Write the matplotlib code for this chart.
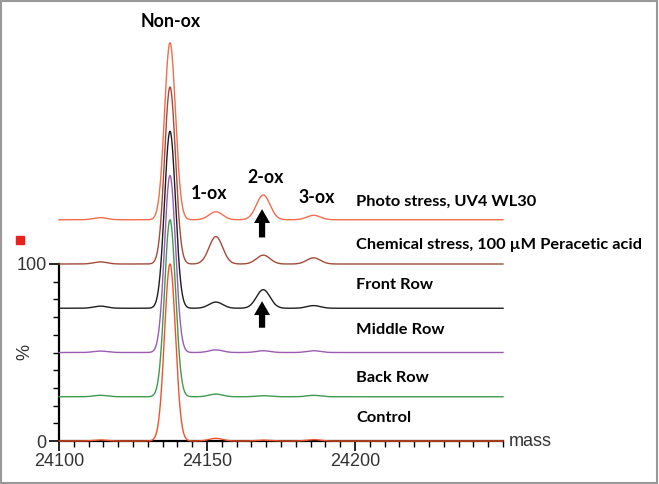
import numpy as np
import matplotlib
matplotlib.use("Agg")
import matplotlib.pyplot as plt
from matplotlib.patches import Rectangle

# peak table (mass in Da, intensity in % of each trace's own max)
peak_mass = [24114, 24137.5, 24153, 24169, 24186]
peak_names = ["Non-ox", "1-ox", "2-ox", "3-ox"]

samples = ["Photo stress, UV4 WL30",
           "Chemical stress, 100 \u00b5M Peracetic acid",
           "Front Row", "Middle Row", "Back Row", "Control"]
offsets = [125, 100, 75, 50, 25, 0]
photo = [1.2, 100, 4.5, 14, 2.5]
chemical = [1.2, 100, 15.5, 5, 3.5]
front = [1.2, 100, 3.5, 10.5, 1.5]
middle = [0.8, 100, 1.5, 1.0, 1.0]
back = [0.8, 100, 1.5, 0.6, 0.8]
control = [0.6, 100, 1.5, 0.5, 0.8]
intensities = [photo, chemical, front, middle, back, control]

colors = ["#F26D4B", "#A34B3B", "#1E1E1E", "#9B5BB3", "#3F9A50", "#F0532C"]

# figure is 659x484 px, axis 24100 at x=59 px, 2.96 px/Da; 0% at y=441 px, 1.77 px/%
fig = plt.figure(figsize=(6.59, 4.84), dpi=100)
ax = fig.add_axes([0, 0, 1, 1])
ax.set_xlim(24100 - 59 / 2.96, 24100 + 600 / 2.96)
ax.set_ylim(-43 / 1.77, 441 / 1.77)

mass = np.linspace(24100, 24250, 1501)
widths = [2.3, 1.85, 2.3, 2.3, 2.3]
for name, off, inten, col in zip(samples, offsets, intensities, colors):
    prof = np.zeros_like(mass)
    for m, h, w in zip(peak_mass, inten, widths):
        prof += h * np.exp(-0.5 * ((mass - m) / w) ** 2)
    ax.plot(mass, prof + off, color=col, lw=1.0, zorder=3)

# spines / ticks
for s in ["top", "right"]:
    ax.spines[s].set_visible(False)
ax.spines["left"].set_bounds(0, 100)
ax.spines["bottom"].set_bounds(24100, 24250)
ax.spines["left"].set_position(("data", 24100))
ax.spines["bottom"].set_position(("data", 0))
for s in ["left", "bottom"]:
    ax.spines[s].set_linewidth(1.6)
    ax.spines[s].set_color("black")
ax.set_xticks([24100, 24150, 24200])
ax.set_xticks(np.arange(24100, 24251, 5), minor=True)
ax.set_yticks([0, 100])
ax.set_yticks(np.arange(0, 101, 10), minor=True)
ax.tick_params(which="major", direction="out", length=7, width=1.2,
               labelsize=13, labelcolor="#333333", pad=2)
ax.tick_params(which="minor", direction="out", length=4, width=1.0)
for lab in ax.get_xticklabels() + ax.get_yticklabels():
    lab.set_family("Liberation Sans")
ax.text(24088.5, 50, "%", rotation=90, ha="center", va="center",
        fontsize=13, color="#333333", family="Liberation Sans")
ax.text(24252, 0, "mass", ha="left", va="center", fontsize=13,
        color="#333333", family="Liberation Sans")

# sample labels
label_y = [135, 110.5, 88, 62.5, 35.5, 13]
for name, y in zip(samples, label_y):
    ax.text(24200.3, y, name, ha="left", va="center", fontsize=11.8,
            fontweight="bold", family="Lato", color="black")

# oxidation labels
ann_x = [24137.8, 24150.7, 24169.9, 24187.2]
ann_y = [237, 140, 148.6, 137.3]
for t, x, y in zip(peak_names, ann_x, ann_y):
    ax.text(x, y, t, ha="center", va="center", fontsize=12.8,
            fontweight="bold", family="Lato", color="black")

# arrows under 2-ox
for tail, tip in [(115.0, 131), (64.0, 79)]:
    ax.annotate("", xy=(24168.6, tip), xytext=(24168.6, tail),
                arrowprops=dict(arrowstyle="simple,head_length=1.0,head_width=1.15,tail_width=0.45",
                                color="black", lw=0, shrinkA=0, shrinkB=0))

# red square marker and image frame
fig.patches.append(Rectangle((16 / 659, 1 - 244 / 484), 8 / 659, 8 / 484,
                             transform=fig.transFigure, color="#E8231F"))
fig.patches.append(Rectangle((0.001, 0.002), 0.996, 0.996, transform=fig.transFigure,
                             fill=False, edgecolor="#999999", lw=1.5))

fig.savefig("out.png", dpi=100)
